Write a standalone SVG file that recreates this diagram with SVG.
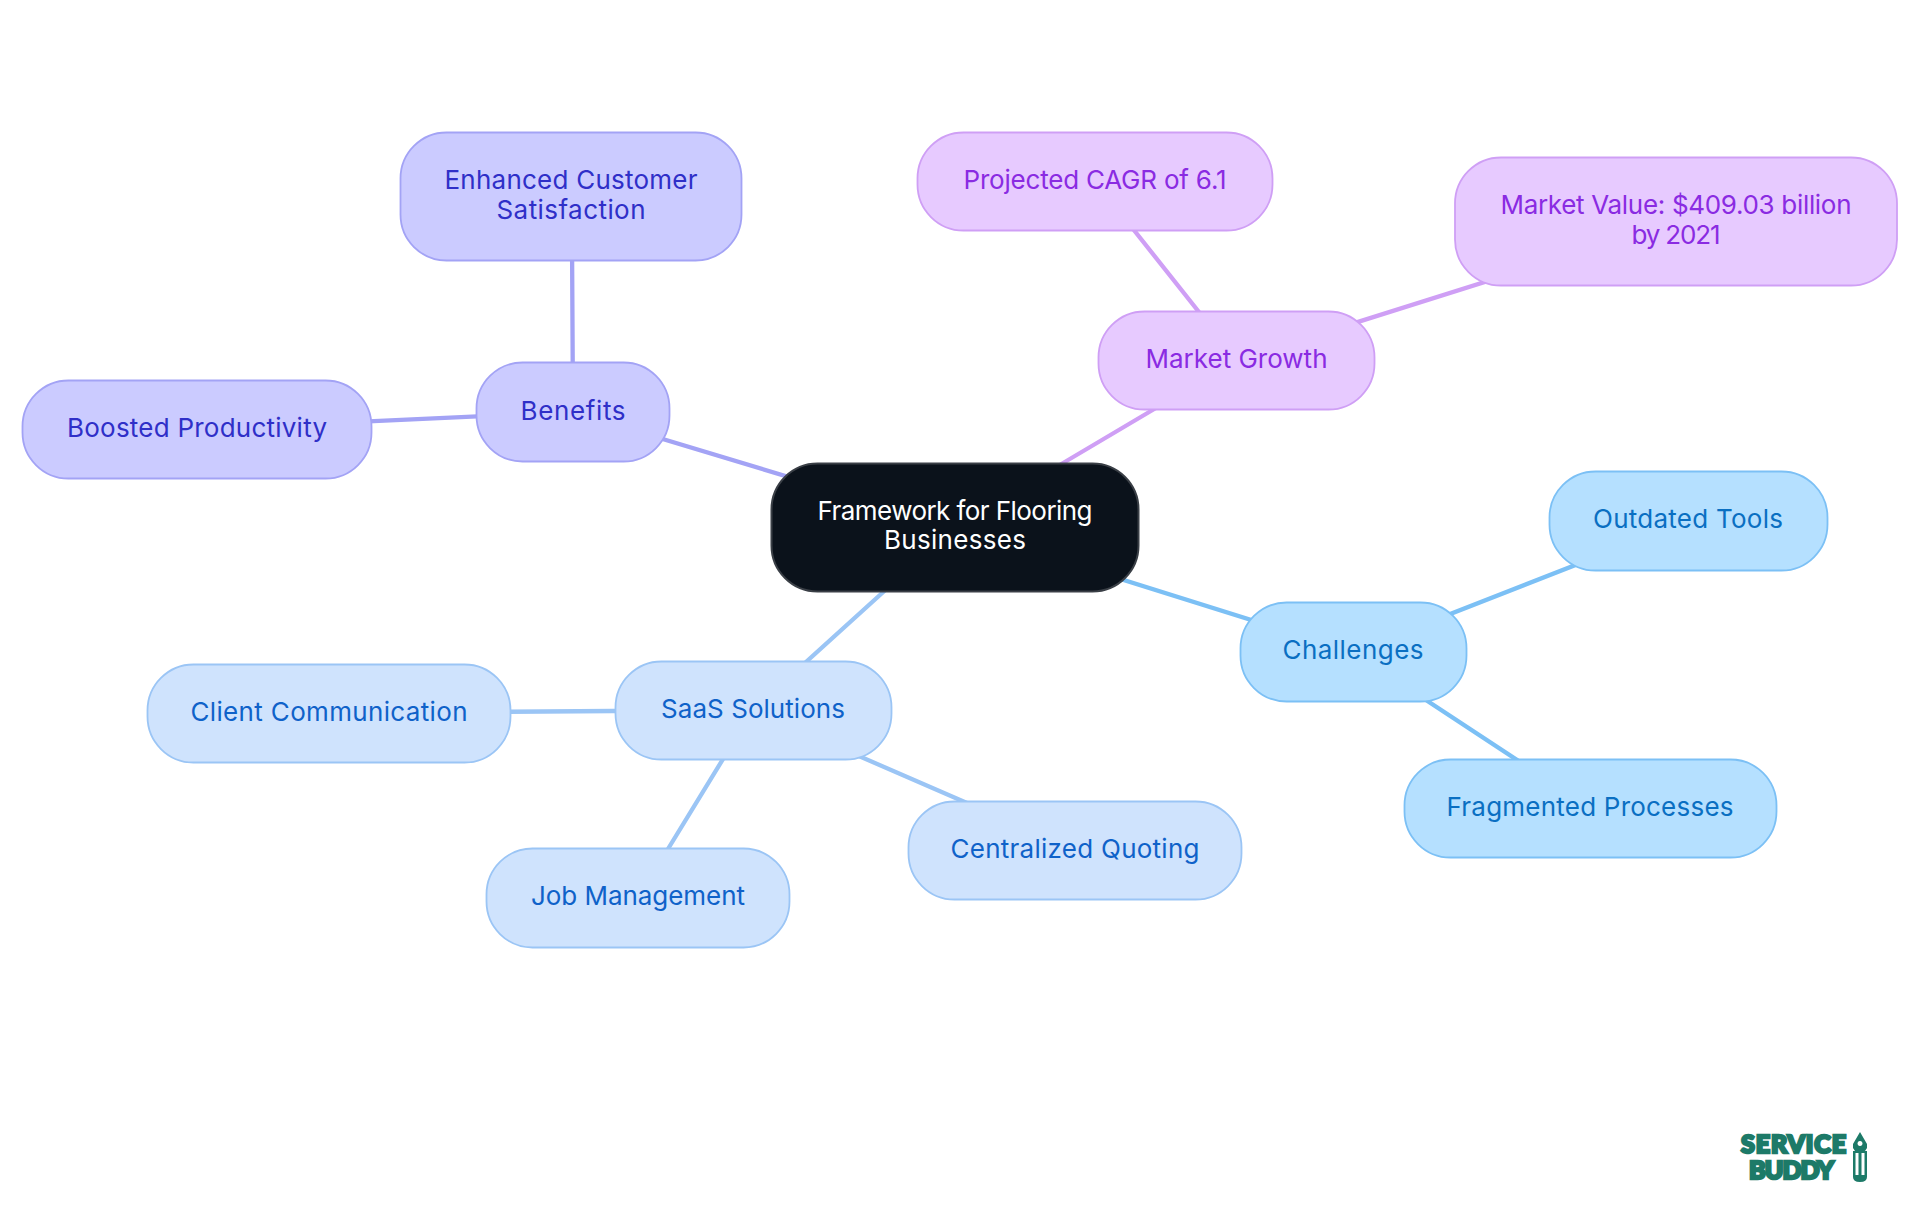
<svg xmlns="http://www.w3.org/2000/svg" width="1920" height="1215" viewBox="0 0 1920 1215">
<style>
text{font-family:Inter,"Noto Sans",sans-serif;font-size:26px;text-anchor:middle}
.n{stroke-width:1.8}
.e{stroke-width:4.3;fill:none}
.ind{fill:#cbcbff;stroke:#a3a3f5}text.ind{fill:#2f2fc8;stroke:none}
.pur{fill:#e7caff;stroke:#cf9ff5}text.pur{fill:#8a2be2;stroke:none}
.sky{fill:#b5e0ff;stroke:#7cc0f5}text.sky{fill:#0a6fc2;stroke:none}
.blu{fill:#cfe3fd;stroke:#9bc5f5}text.blu{fill:#0f62c9;stroke:none}
.lg{font-family:"Lato","Noto Sans",sans-serif;font-weight:900;font-size:25px;fill:#1d7a68;stroke:#1d7a68;stroke-width:2.6}
</style>
<rect width="1920" height="1215" fill="#fff"/>
<g id="connectors">
<path class="e" stroke="#a3a3f5" d="M955 527 573 412M573 412 572 240M573 412 200 429"/>
<path class="e" stroke="#cf9ff5" d="M955 527 1237 360M1237 360 1095 181M1237 360 1679 221"/>
<path class="e" stroke="#7cc0f5" d="M955 527 1353 652M1353 652 1688 521M1353 652 1590 808"/>
<path class="e" stroke="#9bc5f5" d="M955 527 753 710M753 710 329 713M753 710 638 898M753 710 1075 850"/>
</g>
<g id="root"><rect x="771.5" y="463.5" width="367" height="128" rx="46" fill="#0b121b" stroke="#3a3f46" stroke-width="2"/><text x="955" y="520" fill="#fff" textLength="275">Framework for Flooring</text><text x="955" y="549" fill="#fff" textLength="142">Businesses</text></g>
<g id="benefits"><rect class="n ind" x="476.500" y="362.500" width="193" height="99" rx="46"/><text class="ind" x="573" y="420" textLength="105">Benefits</text></g>
<g id="enhanced"><rect class="n ind" x="400.500" y="132.500" width="341" height="128" rx="46"/><text class="ind" x="571" y="189" textLength="253">Enhanced Customer</text><text class="ind" x="571" y="219" textLength="149">Satisfaction</text></g>
<g id="boosted"><rect class="n ind" x="22.500" y="380.500" width="349" height="98" rx="46"/><text class="ind" x="197" y="437" textLength="260">Boosted Productivity</text></g>
<g id="market"><rect class="n pur" x="1098.500" y="311.500" width="276" height="98" rx="46"/><text class="pur" x="1236.500" y="368" textLength="182">Market Growth</text></g>
<g id="projected"><rect class="n pur" x="917.500" y="132.500" width="355" height="98" rx="46"/><text class="pur" x="1095" y="189" textLength="263">Projected CAGR of 6.1</text></g>
<g id="value"><rect class="n pur" x="1455" y="157.500" width="442" height="128" rx="46"/><text class="pur" x="1676" y="214" textLength="351">Market Value: $409.03 billion</text><text class="pur" x="1676" y="244" textLength="89">by 2021</text></g>
<g id="challenges"><rect class="n sky" x="1240.500" y="602.500" width="226" height="99" rx="46"/><text class="sky" x="1353" y="659" textLength="141">Challenges</text></g>
<g id="outdated"><rect class="n sky" x="1549.500" y="471.500" width="278" height="99" rx="46"/><text class="sky" x="1688" y="528" textLength="190">Outdated Tools</text></g>
<g id="fragmented"><rect class="n sky" x="1404.500" y="759.500" width="372" height="98" rx="46"/><text class="sky" x="1590" y="816" textLength="287">Fragmented Processes</text></g>
<g id="saas"><rect class="n blu" x="615.500" y="661.500" width="276" height="98" rx="46"/><text class="blu" x="753" y="718" textLength="184">SaaS Solutions</text></g>
<g id="client"><rect class="n blu" x="147.500" y="664.500" width="363" height="98" rx="46"/><text class="blu" x="329" y="721" textLength="277">Client Communication</text></g>
<g id="job"><rect class="n blu" x="486.500" y="848.500" width="303" height="99" rx="46"/><text class="blu" x="638" y="905" textLength="214">Job Management</text></g>
<g id="centralized"><rect class="n blu" x="908.500" y="801.500" width="333" height="98" rx="46"/><text class="blu" x="1075" y="858" textLength="249">Centralized Quoting</text></g>
<g id="logo">
<text class="lg" x="1793.500" y="1153" textLength="105">SERVICE</text><text class="lg" x="1791.500" y="1179" textLength="85">BUDDY</text>
<path fill-rule="evenodd" fill="#1d7a68" d="M1860 1132l-7 12v4l2 3h-2v26q0 5 7 5t7-5v-26h-2l2-3v-4zM1860 1141a2.500 2.500 0 1 0 .01 0zM1855.500 1153h3v22h-3zM1861.500 1153h3v22h-3z"/>
</g>
</svg>
